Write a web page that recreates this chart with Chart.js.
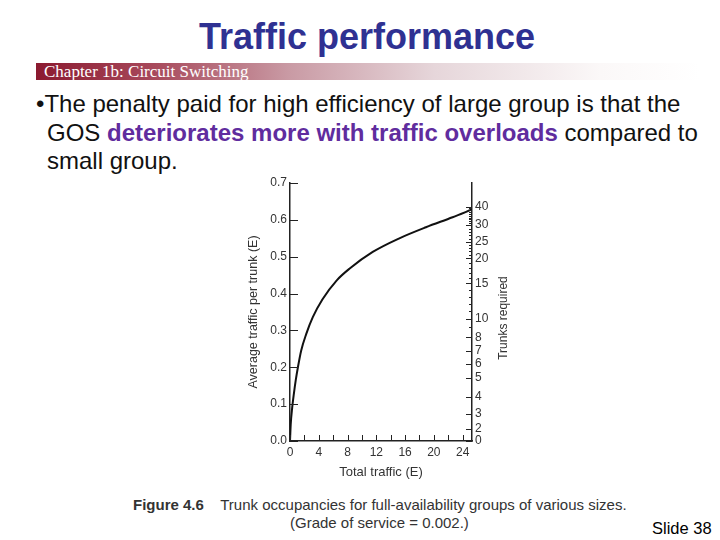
<!DOCTYPE html>
<html>
<head>
<meta charset="utf-8">
<title>Traffic performance</title>
<script src="https://cdn.jsdelivr.net/npm/chart.js@4.4.1/dist/chart.umd.min.js"></script>
<style>
  html, body { margin: 0; padding: 0; background: #fff; }
  body { width: 720px; height: 540px; position: relative; overflow: hidden; font-family: "Liberation Sans", Arial, sans-serif; }
  #title { position: absolute; left: 0; width: 734px; top: 17px; line-height: 40px; text-align: center; font-size: 36px; font-weight: bold; color: #2f3192; }
  #bar { position: absolute; left: 36px; top: 63px; width: 664px; height: 17px;
         background: linear-gradient(to right, #8b1a30 0%, #a84a5c 18%, #c99aa4 38%, #e6d6da 60%, #fbf8f8 85%, #fff 100%); }
  #bar span { position: absolute; left: 8px; top: 0; line-height: 18px; font-family: "Liberation Serif", "Times New Roman", serif; font-size: 17px; color: #fff; }
  #bullet { position: absolute; left: 36px; top: 90px; font-size: 24px; line-height: 28.5px; color: #111; padding-left: 11px; text-indent: -11px; white-space: nowrap; }
  #bullet b { color: #602c9e; }
  #chart { position: absolute; left: 230px; top: 170px; }
  .cap { position: absolute; font-size: 15px; color: #333; white-space: nowrap; }
  #slide { position: absolute; left: 652px; top: 519px; font-size: 16.5px; color: #000; }
</style>
</head>
<body>
<div id="title">Traffic performance</div>
<div id="bar"><span>Chapter 1b: Circuit Switching</span></div>
<div id="bullet">•The penalty paid for high efficiency of large group is that the<br>GOS <b>deteriorates more with traffic overloads</b> compared to<br>small group.</div>
<canvas id="chart" width="290" height="310"></canvas>
<div class="cap" style="left:133px; top:496px;"><b>Figure 4.6</b>&nbsp;&nbsp;&nbsp; Trunk occupancies for full-availability groups of various sizes.</div>
<div class="cap" style="left:290px; top:514px;">(Grade of service = 0.002.)</div>
<div id="slide">Slide 38</div>

<script>
// curve: total traffic (E) vs average traffic per trunk (E)
const totalTraffic = [0, 0.1, 0.3, 0.55, 0.8, 1.1, 1.55, 2.25, 3.17, 4.5, 6.5, 8.3, 11.5, 15.2, 18.9, 22.6, 25.3];
const trafficPerTrunk = [0, 0.045, 0.09, 0.13, 0.165, 0.2, 0.245, 0.29, 0.336, 0.384, 0.436, 0.468, 0.513, 0.55, 0.58, 0.607, 0.628];

// right scale: trunks required, placed at the per-trunk traffic they give
const trunkLabels = [0, 2, 3, 4, 5, 6, 7, 8, 10, 15, 20, 25, 30, 40];
const trunkMajorPos = [0, 0.033, 0.074, 0.12, 0.172, 0.21, 0.245, 0.281, 0.332, 0.428, 0.496, 0.54, 0.586, 0.635];
const trunkMinorPos = [0.31, 0.352, 0.372, 0.392, 0.41, 0.442, 0.456, 0.47, 0.483, 0.506, 0.515, 0.524, 0.532,
  0.549, 0.558, 0.567, 0.576, 0.591, 0.596, 0.601, 0.606, 0.611, 0.616, 0.621, 0.626, 0.631];

const xTicks = [0, 2, 4, 6, 8, 10, 12, 14, 16, 18, 20, 22, 24];
const yTicks = [0, 0.1, 0.2, 0.3, 0.4, 0.5, 0.6, 0.7];

const ink = '#222';
const tickFont = { family: 'Liberation Sans', size: 12 };

// tick marks point into the plot, so draw them ourselves from the scales
const innerTicks = {
  id: 'innerTicks',
  afterDraw(chart) {
    const { ctx, chartArea, scales } = chart;
    ctx.save();
    ctx.strokeStyle = ink;
    ctx.lineWidth = 1;
    ctx.beginPath();
    xTicks.forEach(v => {
      const px = Math.round(scales.x.getPixelForValue(v)) + 0.5;
      ctx.moveTo(px, chartArea.bottom);
      ctx.lineTo(px, chartArea.bottom - 6);
    });
    yTicks.forEach(v => {
      const py = Math.round(scales.y.getPixelForValue(v)) + 0.5;
      ctx.moveTo(chartArea.left, py);
      ctx.lineTo(chartArea.left + 8, py);
    });
    trunkMajorPos.forEach(v => {
      const py = Math.round(scales.trunks.getPixelForValue(v)) + 0.5;
      ctx.moveTo(chartArea.right, py);
      ctx.lineTo(chartArea.right - 6, py);
    });
    trunkMinorPos.forEach(v => {
      const py = Math.round(scales.trunks.getPixelForValue(v)) + 0.5;
      ctx.moveTo(chartArea.right, py);
      ctx.lineTo(chartArea.right - 3, py);
    });
    ctx.stroke();

    // right axis title reads bottom to top
    ctx.translate(chartArea.right + 32, (chartArea.top + chartArea.bottom) / 2 + 6);
    ctx.rotate(-Math.PI / 2);
    ctx.fillStyle = '#333';
    ctx.font = '12px "Liberation Sans"';
    ctx.textAlign = 'center';
    ctx.textBaseline = 'middle';
    ctx.fillText('Trunks required', 0, 0);
    ctx.restore();
  }
};

new Chart(document.getElementById('chart'), {
  type: 'scatter',
  data: {
    datasets: [{
      data: totalTraffic.map((x, i) => ({ x, y: trafficPerTrunk[i] })),
      showLine: true,
      borderColor: '#111',
      borderWidth: 2,
      pointRadius: 0,
      cubicInterpolationMode: 'monotone'
    }]
  },
  options: {
    responsive: false,
    animation: false,
    devicePixelRatio: 1,
    layout: { padding: { top: 13, left: 0, right: 0, bottom: 0 } },
    plugins: { legend: { display: false }, tooltip: { enabled: false } },
    scales: {
      x: {
        type: 'linear', min: 0, max: 25.3,
        afterBuildTicks: s => { s.ticks = xTicks.map(value => ({ value })); },
        afterFit: s => { s.height = 39; },
        border: { display: true, color: ink, width: 1.5 },
        grid: { display: false, drawTicks: false },
        ticks: { color: '#333', font: tickFont, padding: 4, autoSkip: false, maxRotation: 0, minRotation: 0,
                 callback: v => (v % 4 === 0 ? v : '') },
        title: { display: true, text: 'Total traffic (E)', color: '#333', font: { family: 'Liberation Sans', size: 13 }, padding: { top: 0, bottom: 0 } }
      },
      y: {
        type: 'linear', position: 'left', min: 0, max: 0.7,
        afterBuildTicks: s => { s.ticks = yTicks.map(value => ({ value })); },
        afterFit: s => { s.width = 60; },
        border: { display: true, color: ink, width: 1.5 },
        grid: { display: false, drawTicks: false },
        ticks: { color: '#333', font: tickFont, padding: 3, callback: v => v.toFixed(1) },
        title: { display: true, text: 'Average traffic per trunk (E)', color: '#333', font: { family: 'Liberation Sans', size: 12.5 }, padding: { top: 16, bottom: 0 } }
      },
      trunks: {
        type: 'linear', position: 'right', min: 0, max: 0.7,
        afterBuildTicks: s => { s.ticks = trunkMajorPos.map(value => ({ value })); },
        afterFit: s => { s.width = 48; },
        border: { display: true, color: ink, width: 1.5 },
        grid: { display: false, drawTicks: false },
        ticks: { color: '#333', font: tickFont, padding: 3, autoSkip: false,
                 callback: (v, i) => trunkLabels[i] }
      }
    }
  },
  plugins: [innerTicks]
});
</script>
</body>
</html>
